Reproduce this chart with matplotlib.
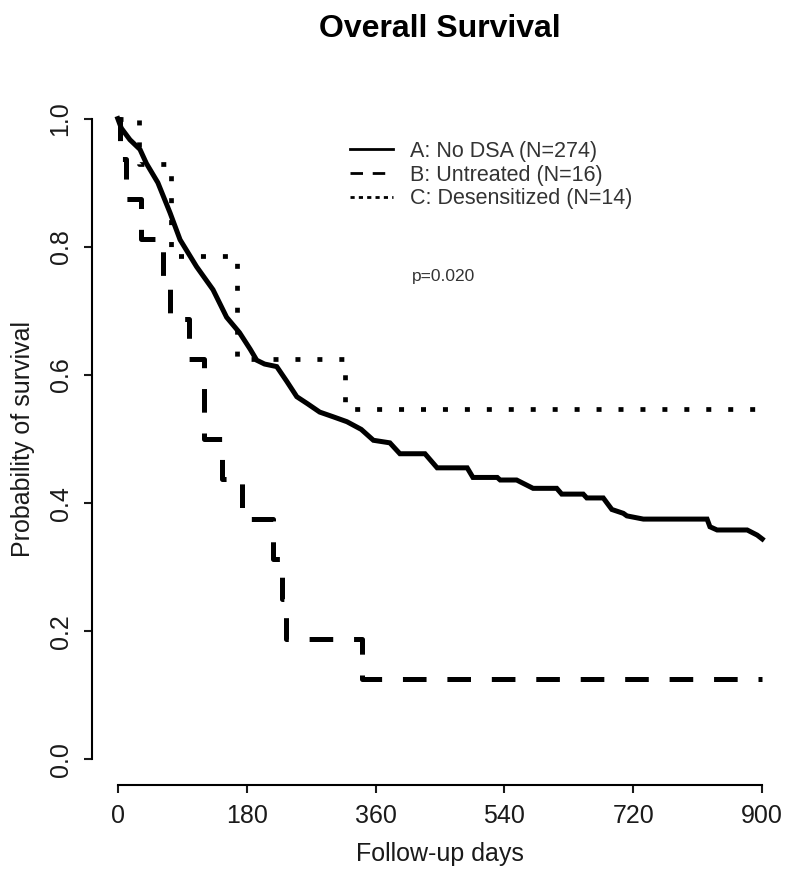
import matplotlib
matplotlib.use("Agg")
import matplotlib.pyplot as plt
from matplotlib.lines import Line2D

# Kaplan-Meier estimates
a_days = [0, 5, 17, 31, 40, 56, 73, 87, 110, 133, 152, 170, 185, 194, 205, 222,
          236, 250, 265, 282, 300, 320, 340, 357, 380, 394, 429, 446, 488, 496,
          530, 534, 557, 580, 613, 620, 650, 655, 678, 690, 706, 711, 734, 823,
          827, 837, 879, 893, 900]
a_surv = [1.0, 0.985, 0.967, 0.952, 0.93, 0.90, 0.853, 0.811, 0.769, 0.733, 0.69,
          0.666, 0.64, 0.623, 0.617, 0.613, 0.59, 0.566, 0.555, 0.542, 0.535,
          0.527, 0.515, 0.498, 0.494, 0.477, 0.477, 0.455, 0.455, 0.44, 0.44,
          0.436, 0.436, 0.423, 0.423, 0.414, 0.414, 0.408, 0.408, 0.39, 0.384,
          0.38, 0.375, 0.375, 0.363, 0.358, 0.358, 0.35, 0.344]

b_days = [0, 3, 12, 33, 63, 73, 100, 120, 146, 173, 217, 230, 235, 341, 900]
b_surv = [1.0, 0.9375, 0.875, 0.8125, 0.75, 0.6875, 0.625, 0.5, 0.4375, 0.375,
          0.3125, 0.25, 0.1875, 0.125, 0.125]

c_days = [0, 30, 75, 166, 318, 900]
c_surv = [1.0, 0.929, 0.786, 0.625, 0.547, 0.547]

labels = ["A: No DSA (N=274)", "B: Untreated (N=16)", "C: Desensitized (N=14)"]
x_ticks = [0, 180, 360, 540, 720, 900]
y_ticks = [0.0, 0.2, 0.4, 0.6, 0.8, 1.0]
p_text = "p=0.020"

plt.rcParams['font.family'] = ['Liberation Sans', 'DejaVu Sans']
plt.rcParams['lines.scale_dashes'] = False

fig = plt.figure(figsize=(8, 8.89), dpi=100)
ax = fig.add_axes([92 / 800, 1 - 785 / 889, 696 / 800, 692 / 889])

ax.plot(a_days, a_surv, color='black', lw=3.6, solid_joinstyle='miter')
ax.plot(b_days, b_surv, color='black', lw=3.6, drawstyle='steps-post',
        dashes=(17, 15), dash_capstyle='butt')
ax.plot(c_days, c_surv, color='black', lw=3.4, drawstyle='steps-post',
        dashes=(3.6, 12.2), dash_capstyle='butt')

ax.set_xlim(-36, 936)
ax.set_ylim(-0.04, 1.04)
ax.set_xticks(x_ticks)
ax.set_xticklabels([str(t) for t in x_ticks])
ax.set_yticks(y_ticks)
ax.set_yticklabels(["%.1f" % t for t in y_ticks])

for side in ['top', 'right']:
    ax.spines[side].set_visible(False)
ax.spines['left'].set_bounds(0, 1)
ax.spines['bottom'].set_bounds(0, 900)
for side in ['left', 'bottom']:
    ax.spines[side].set_linewidth(1.5)
ax.tick_params(length=6, width=1.5, labelsize=18, colors='#1a1a1a', pad=8)
ax.tick_params(axis='y', labelrotation=90)
for lbl in ax.get_yticklabels():
    lbl.set_va('center')

ax.set_xlabel("Follow-up days", fontsize=18, color='#1a1a1a')
ax.set_ylabel("Probability of survival", fontsize=18, color='#1a1a1a')
ax.xaxis.set_label_coords(0.5, -0.082)
ax.yaxis.set_label_coords(-0.082, 0.5)

fig.text(440 / 800, 1 - 29 / 889, "Overall Survival", fontsize=23,
         fontweight='bold', ha='center', va='center')

handles = [Line2D([], [], color='black', lw=2),
           Line2D([], [], color='black', lw=2, dashes=(9, 7)),
           Line2D([], [], color='black', lw=2, dashes=(3, 3))]
fig.legend(handles, labels, loc='upper left',
           bbox_to_anchor=(350 / 800, 1 - 141 / 889), frameon=False,
           fontsize=15.5, handlelength=2.0, handletextpad=0.8,
           labelspacing=0.12, borderpad=0, borderaxespad=0,
           labelcolor='#333333')

ax.text(411, 0.753, p_text, fontsize=12.5, color='#333333', va='center')

fig.savefig("out.png", dpi=100)
